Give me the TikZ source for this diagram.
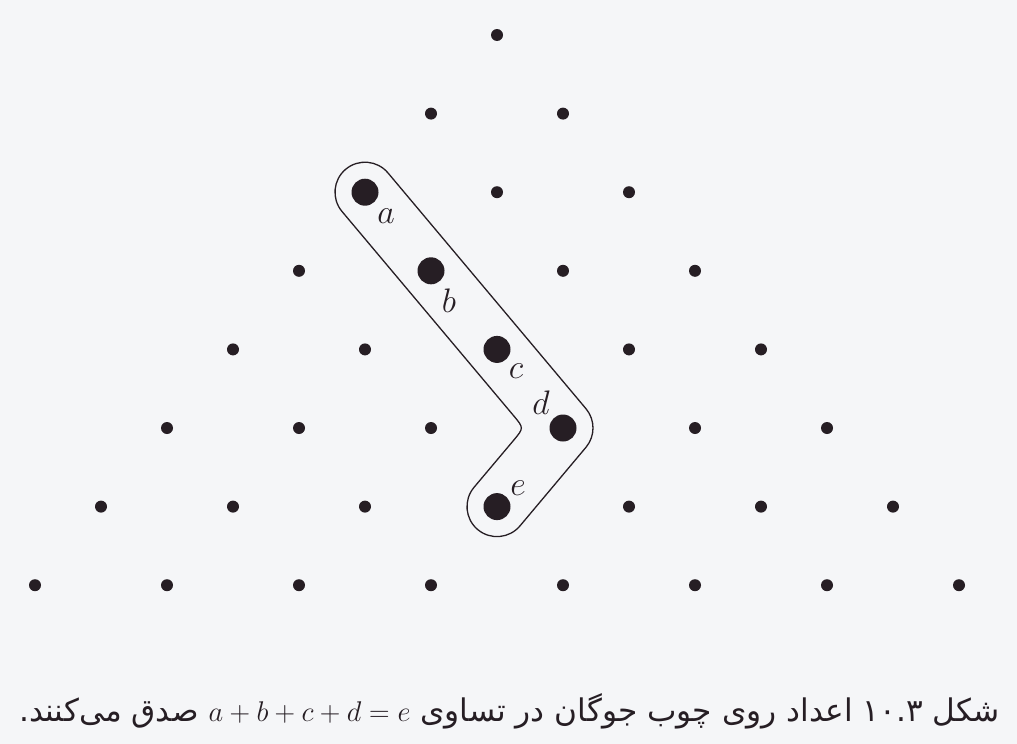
\RequirePackage{fix-cm}
\documentclass[tikz,border=0pt]{standalone}
\usepackage{fontspec}
\usetikzlibrary{calc}
\newfontfamily\arabicfont[Script=Arabic]{DejaVu Sans}
\TeXXeTstate=1
\definecolor{bg}{RGB}{245,246,248}
\definecolor{ink}{RGB}{38,30,36}
\begin{document}
\begin{tikzpicture}[x=1pt,y=-1pt,
  dot/.style={circle,fill=ink,inner sep=0pt,minimum size=12pt},
  bigdot/.style={circle,fill=ink,inner sep=0pt,minimum size=27pt},
  lbl/.style={font=\fontsize{34}{38}\selectfont,text=ink,inner sep=0pt},
  stick/.style={draw=ink,line width=1.3pt}]
\fill[bg] (0,0) rectangle (1017,744);
\useasboundingbox (0,0) rectangle (1017,744);
\foreach \r in {0,...,7}{
  \foreach \k in {0,...,\r}{
    \node[dot] (n\r-\k) at ({497+(2*\k-\r)*66},{35+\r*78.6}) {};
  }
}
\coordinate (I) at ($(n5-3.center)+(-39.1,0)$);
\draw[stick] ($(n2-0.center)+(-39.9:30)$) -- ($(n5-3.center)+(-39.9:30)$)
  arc[start angle=-39.9,end angle=39.9,radius=30]
  -- ($(n6-3.center)+(39.9:30)$)
  arc[start angle=39.9,end angle=219.9,radius=30]
  -- ($(I)+(129.9:16)$) .. controls (I) .. ($(I)+(230.1:16)$)
  -- ($(n2-0.center)+(140.1:30)$)
  arc[start angle=140.1,end angle=320.1,radius=30] -- cycle;
\node[bigdot] (A) at (n2-0) {};
\node[bigdot] (B) at (n3-1) {};
\node[bigdot] (C) at (n4-2) {};
\node[bigdot] (D) at (n5-3) {};
\node[bigdot] (E) at (n6-3) {};
\node[lbl] (la) at ([shift={(21,24)}]A.center) {$a$};
\node[lbl] (lb) at ([shift={(18,30)}]B.center) {$b$};
\node[lbl] (lc) at ([shift={(19,22)}]C.center) {$c$};
\node[lbl] (ld) at ([shift={(-22,-25)}]D.center) {$d$};
\node[lbl] (le) at ([shift={(21,-18)}]E.center) {$e$};
\node[anchor=east,inner sep=0pt,text=ink] (cap) at (1000,711)
  {\arabicfont\fontsize{31.2}{36}\selectfont\beginR شکل \beginL۱۰.۳\endL{} اعداد روی چوب جوگان در تساوی \beginL{\fontsize{28.5}{33}\selectfont$a+b+c+d=e$}\endL{} صدق می‌کنند.\endR};
\end{tikzpicture}
\end{document}
